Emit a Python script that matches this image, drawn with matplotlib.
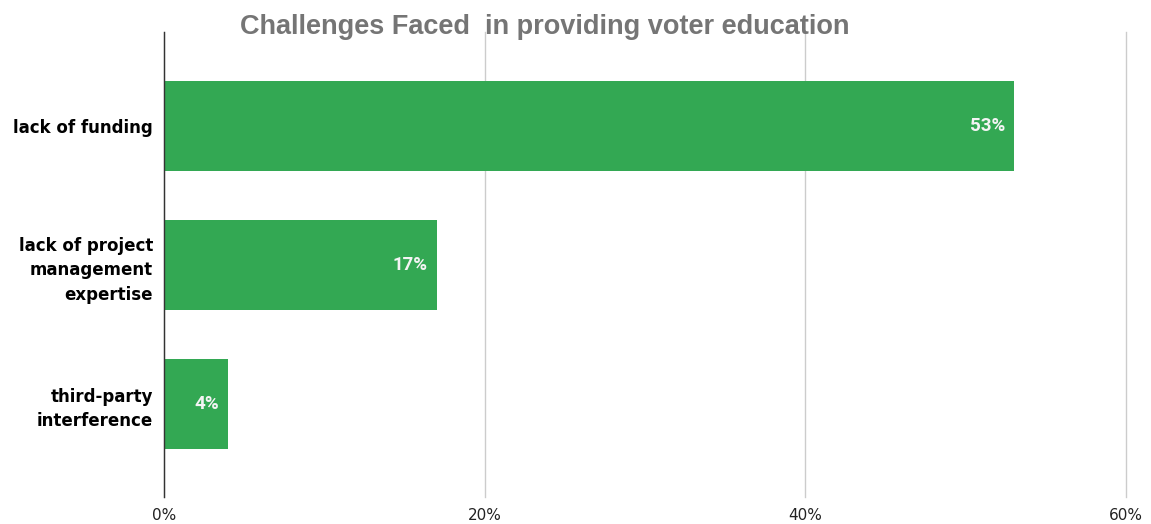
import matplotlib
matplotlib.use("Agg")
import matplotlib.pyplot as plt
from matplotlib import font_manager
from matplotlib.ticker import PercentFormatter

TITLE = "Challenges Faced  in providing voter education"
categories = ["lack of funding", "lack of project\nmanagement\nexpertise", "third-party\ninterference"]
shares = [53, 17, 4]
x_ticks = [0, 20, 40, 60]

BAR_COLOR = "#33a853"
GRID_COLOR = "#cccccc"

installed = {f.name for f in font_manager.fontManager.ttflist}
tick_family = "Liberation Sans Narrow" if "Liberation Sans Narrow" in installed else "DejaVu Sans"

fig = plt.figure(figsize=(11.51, 5.24), dpi=100)
ax = fig.add_axes([0.1425, 0.0515, 0.8358, 0.8875])

positions = range(len(categories))
bars = ax.barh(positions, shares, height=0.65, color=BAR_COLOR, zorder=2)

for bar, value in zip(bars, shares):
    ax.annotate(
        f"{value}%",
        xy=(bar.get_width(), bar.get_y() + bar.get_height() / 2),
        xytext=(-6.5, 0),
        textcoords="offset points",
        ha="right",
        va="center",
        color="#f4f4f4",
        fontsize=13.5,
        fontweight="bold",
        family="Roboto",
    )

ax.set_xlim(0, 60)
ax.set_ylim(2.67, -0.68)
ax.set_xticks(x_ticks)
ax.xaxis.set_major_formatter(PercentFormatter(100, decimals=0))
ax.set_yticks(list(positions))
ax.set_yticklabels(categories, fontsize=12, fontweight="bold", family="DejaVu Sans",
                   linespacing=1.45)
ax.tick_params(axis="y", length=0, pad=8)
ax.tick_params(axis="x", length=0, pad=8, labelsize=11, labelcolor="#222222")
for label in ax.get_xticklabels():
    label.set_family(tick_family)

ax.grid(axis="x", color=GRID_COLOR, linewidth=1, zorder=0)
for line in ax.get_xgridlines():
    line.set_clip_on(False)
ax.set_axisbelow(True)
for side in ["top", "right", "bottom"]:
    ax.spines[side].set_visible(False)
ax.spines["left"].set_color("#333333")
ax.spines["left"].set_linewidth(1)
ax.spines["left"].set_zorder(3)

fig.text(0.473, 0.949, TITLE, ha="center", va="center", fontsize=19.5,
         fontweight="bold", color="#757575", family="Liberation Sans")

fig.savefig("out.png", dpi=100)
